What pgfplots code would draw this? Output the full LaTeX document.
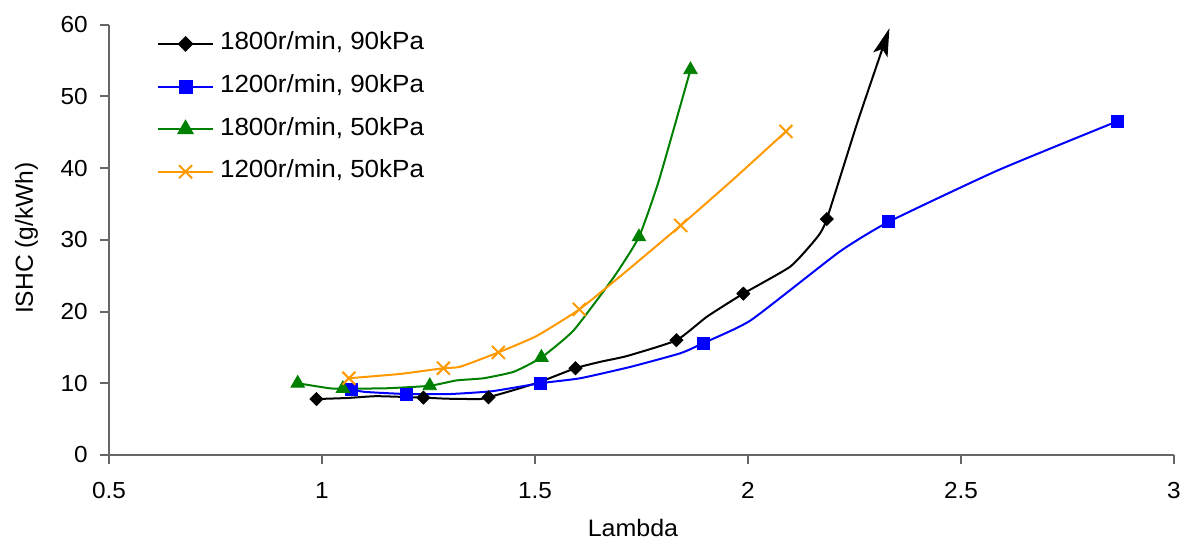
\documentclass[border=0pt]{standalone}
\usepackage{fontspec}
\setmainfont[FakeStretch=1.05]{Liberation Sans}
\newfontfamily\plainsans{Liberation Sans}
\usepackage{pgfplots}
\pgfplotsset{compat=1.18}
\usetikzlibrary{arrows.meta}

\definecolor{axisgray}{gray}{0.4}
\definecolor{xlorange}{RGB}{255,153,0}
\definecolor{xlgreen}{RGB}{0,128,0}
\definecolor{xlblue}{RGB}{0,0,255}

\begin{document}
\begin{tikzpicture}
\begin{axis}[
  scale only axis,
  width=532.5pt, height=215.2pt,
  xmin=0.5, xmax=3, ymin=0, ymax=60,
  xtick={0.5,1,1.5,2,2.5,3},
  ytick={0,10,20,30,40,50,60},
  axis x line*=bottom, axis y line*=left,
  axis line style={axisgray, line width=1pt},
  tick style={axisgray, line width=1pt},
  tick align=outside,
  major tick length=4.5pt,
  /pgf/number format/assume math mode=true,
  ticklabel style={font=\fontsize{11.6}{14}\selectfont, text=black},
  xticklabel style={inner sep=0pt, yshift=-9pt},
  yticklabel style={inner sep=0pt, xshift=-6pt},
  xlabel={Lambda},
  ylabel={ISHC (g/kWh)},
  xlabel style={at={(axis description cs:0.492,-0.189)}, anchor=base,
    font=\fontsize{11.9}{14}\selectfont},
  ylabel style={at={(axis description cs:-0.0714,0.504)}, anchor=base,
    font=\plainsans\fontsize{12.3}{14}\selectfont},
  legend style={
    at={(axis description cs:0.0451,0.9807)}, anchor=north west,
    draw=none, fill=none, inner sep=0pt, outer sep=0pt,
    row sep=10.3pt, column sep=3pt,
    font=\fontsize{12.4}{14}\selectfont,
    nodes={inner sep=0pt, text height=8.5pt, text depth=2.5pt}},
  legend cell align=left,
  legend image code/.code={\draw[mark repeat=2,mark phase=2,#1]
    plot coordinates {(0pt,0pt) (13.75pt,0pt) (27.5pt,0pt)};},
]

% legend entries
\addlegendimage{black, line width=1pt, mark=square*, mark size=2.3pt,
  mark options={solid, rotate=45}}
\addlegendentry{1800r/min, 90kPa}
\addlegendimage{xlblue, line width=1pt, mark=square*, mark size=3pt,
  mark options={solid}}
\addlegendentry{1200r/min, 90kPa}
\addlegendimage{xlgreen, line width=1pt, mark=triangle*, mark size=3.9pt,
  mark options={solid}}
\addlegendentry{1800r/min, 50kPa}
\addlegendimage{xlorange, line width=1pt, mark=x, mark size=4.6pt,
  mark options={solid}}
\addlegendentry{1200r/min, 50kPa}

% 1800 r/min, 90 kPa
\addplot[black, line width=1pt, smooth, tension=0.3, forget plot,
  -{Stealth[length=14pt, width=7.5pt, inset=3pt]}] coordinates {
  (0.987,7.8) (1.06,7.95) (1.128,8.2) (1.238,8.0) (1.293,7.85) (1.371,7.8)
  (1.391,8.05) (1.45,9.05) (1.512,10.2) (1.595,12.1) (1.654,13.0)
  (1.716,13.8) (1.832,16.0) (1.904,19.3) (1.989,22.5) (2.1,26.3)
  (2.163,30.4) (2.185,32.9) (2.257,46.4) (2.332,59.5)};
\addplot[only marks, black, mark=square*, mark size=2.3pt,
  mark options={rotate=45}, forget plot] coordinates {
  (0.987,7.8) (1.238,8.0) (1.391,8.05) (1.595,12.1) (1.832,16.0)
  (1.989,22.5) (2.185,32.9)};

% 1200 r/min, 90 kPa
\addplot[xlblue, line width=1pt, smooth, tension=0.3, forget plot] coordinates {
  (1.069,9.15) (1.10,8.8) (1.198,8.5) (1.30,8.5) (1.40,8.9) (1.512,10.0)
  (1.606,10.7) (1.725,12.3) (1.842,14.2) (1.895,15.6) (2.007,18.8)
  (2.214,28.3) (2.33,32.5) (2.587,39.7) (2.866,46.5)};
\addplot[only marks, xlblue, mark=square*, mark size=3pt, forget plot] coordinates {
  (1.069,9.15) (1.198,8.5) (1.512,10.0) (1.895,15.6) (2.33,32.5) (2.866,46.5)};

% 1800 r/min, 50 kPa
\addplot[xlgreen, line width=1pt, smooth, tension=0.3, forget plot] coordinates {
  (0.943,10.0) (1.018,9.3) (1.049,9.25) (1.15,9.3) (1.253,9.65) (1.316,10.4)
  (1.379,10.7) (1.45,11.6) (1.515,13.6) (1.591,17.4) (1.685,24.8)
  (1.744,30.4) (1.791,38.3) (1.865,53.7)};
\addplot[only marks, xlgreen, mark=triangle*, mark size=3.9pt, forget plot] coordinates {
  (0.943,10.0) (1.049,9.25) (1.253,9.65) (1.515,13.6) (1.744,30.4) (1.865,53.7)};

% 1200 r/min, 50 kPa
\addplot[xlorange, line width=1pt, smooth, tension=0.3, forget plot] coordinates {
  (1.063,10.7) (1.183,11.3) (1.285,12.1) (1.324,12.3) (1.414,14.3)
  (1.504,16.6) (1.604,20.3) (1.708,25.3) (1.842,32.0) (1.963,38.3)
  (2.089,45.1)};
\addplot[only marks, xlorange, mark=x, mark size=4.6pt,
  mark options={line width=1pt}, forget plot] coordinates {
  (1.063,10.7) (1.285,12.1) (1.414,14.3) (1.604,20.3) (1.842,32.0) (2.089,45.1)};

\end{axis}
\pgfresetboundingbox
\useasboundingbox (-54.5pt,-43pt) rectangle (538.5pt,227.5pt);
\end{tikzpicture}
\end{document}
